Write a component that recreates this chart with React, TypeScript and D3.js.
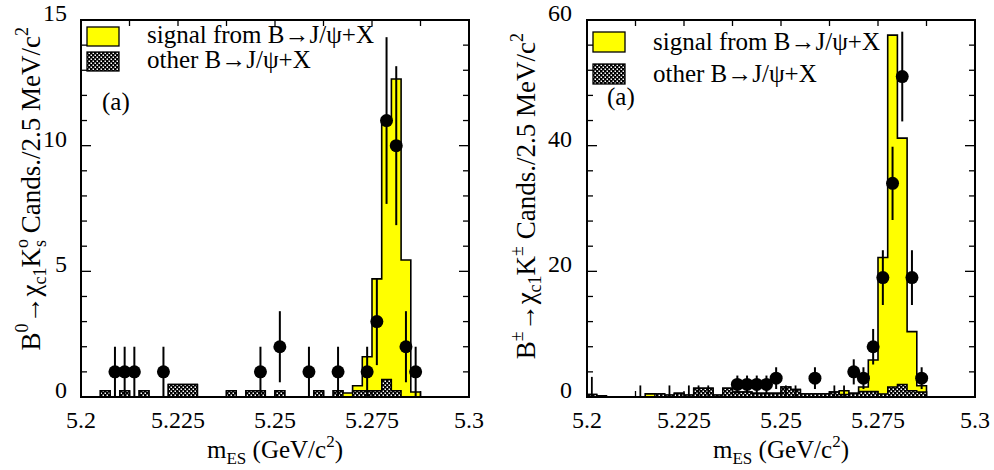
import React from 'react';
import * as d3 from 'd3';

// ---------- data ----------
const X_MIN = 5.2;
const X_MAX = 5.3;
const BIN_W = 0.0025; // 2.5 MeV bins, 40 bins

const xTickValues = [5.2, 5.225, 5.25, 5.275, 5.3];
const xTickLabels = ['5.2', '5.225', '5.25', '5.275', '5.3'];

const leftYTicks = [0, 5, 10, 15];
const leftYLabels = ['0', '5', '10', '15'];
const rightYTicks = [0, 20, 40, 60];
const rightYLabels = ['0', '20', '40', '60'];

// B0 -> chi_c1 K0s
const leftData = [
  0, 0, 0, 1, 1, 1, 0, 0, 1, 0,
  0, 0, 0, 0, 0, 0, 0, 0, 1, 0,
  2, 0, 0, 1, 0, 0, 1, 0, 0, 1,
  3, 11, 10, 2, 1, 0, 0, 0, 0, 0,
];
const leftOther = [
  0, 0, 0.25, 0, 0.25, 0, 0.25, 0, 0, 0.5,
  0.5, 0.5, 0, 0, 0, 0.25, 0, 0.25, 0.25, 0,
  0.25, 0, 0, 0, 0.25, 0, 0.25, 0, 0.25, 0.25,
  0.25, 0.7, 0.25, 0, 0, 0, 0, 0, 0, 0,
];
const leftSignal = [
  0, 0, 0, 0, 0, 0, 0, 0, 0, 0,
  0, 0, 0, 0, 0, 0, 0, 0, 0, 0,
  0, 0, 0, 0, 0, 0, 0, 0.16, 0.2, 1.35,
  4.45, 10.4, 12.4, 5.45, 0.2, 0, 0, 0, 0, 0,
];
const leftZeroErr = new Array(40).fill(0);

// B+- -> chi_c1 K+-
const rightData = [
  0, 0, 0, 0, 0, 0, 0, 0, 0, 0,
  0, 0, 0, 0, 0, 2, 2, 2, 2, 3,
  0, 0, 0, 3, 0, 0, 0, 4, 3, 8,
  19, 34, 51, 19, 3, 0, 0, 0, 0, 0,
];
const rightOther = [
  0.4, 0.2, 0, 0, 0, 0, 0, 0.5, 0.3, 0.6,
  0.3, 1.4, 1.4, 0.3, 1.4, 0.8, 0.8, 0.6, 0.6, 0.6,
  1.6, 1.2, 0.5, 0.5, 0.5, 0.8, 0.4, 0.6, 0.9, 0.9,
  0.5, 1.6, 2.0, 1.0, 0.8, 0, 0, 0, 0, 0,
];
const rightSignal = [
  0, 0, 0, 0, 0, 0, 0.5, 0, 0, 0,
  0, 0, 0, 0, 0, 0, 0, 0, 0, 0,
  0, 0, 0, 0, 0, 0, 0.6, 0, 0.7, 5.0,
  21.7, 56.0, 39.2, 9.4, 1.0, 0, 0, 0, 0, 0,
];
// upper error bars drawn for some empty bins
const rightZeroErr = [
  3.2, 0, 0, 0, 0, 1.84, 0, 0, 1.84, 0,
  1.84, 1.84, 1.84, 0, 0, 0, 0, 0, 0, 0,
  1.84, 1.84, 0, 0, 0, 1.84, 1.84, 0, 0, 0,
  0, 0, 0, 0, 0, 0, 0, 0, 0, 0,
];

const legendSignal = 'signal from B\u2192J/\u03c8+X';
const legendOther = 'other B\u2192J/\u03c8+X';

// ---------- layout ----------
const W = 994;
const H = 470;
const TOP = 20;
const BOTTOM = 397;
const FONT = '"Liberation Serif", "DejaVu Serif", serif';

type PanelProps = {
  id: string;
  x0: number;
  x1: number;
  yMax: number;
  yMinor: number;
  yTicks: number[];
  yLabels: string[];
  yLabelRight: number;
  data: number[];
  other: number[];
  signal: number[];
  zeroErr: number[];
  legend: { boxX: number; box1Y: number; box2Y: number; boxH: number; textX: number; t1: number; t2: number };
  tag: { x: number; y: number };
  yTitle: React.ReactNode;
  yTitlePos: { x: number; y: number };
};

function Panel(p: PanelProps) {
  const x = d3.scaleLinear().domain([X_MIN, X_MAX]).range([p.x0, p.x1]);
  const y = d3.scaleLinear().domain([0, p.yMax]).range([BOTTOM, TOP]);
  const n = p.data.length;
  const edge = (i: number) => x(X_MIN + i * BIN_W);
  const center = (i: number) => x(X_MIN + (i + 0.5) * BIN_W);
  const total = p.other.map((o, i) => o + p.signal[i]);
  const stepPoints = (vals: number[]): [number, number][] => [
    [edge(0), 0],
    ...vals.map((v, i) => [edge(i), v] as [number, number]),
    [edge(n), vals[n - 1]],
    [edge(n), 0],
  ];
  const area = d3
    .area<[number, number]>()
    .x((d) => d[0])
    .y0(y(0))
    .y1((d) => y(d[1]))
    .curve(d3.curveStepAfter);
  const line = d3
    .line<[number, number]>()
    .x((d) => d[0])
    .y((d) => y(d[1]))
    .curve(d3.curveStepAfter);

  const xMinor = d3.range(0, 9).map((i) => X_MIN + i * 0.0125);
  const yMinor = d3.range(0, p.yMax + 1e-9, p.yMinor);
  const clipId = `clip-${p.id}`;

  return (
    <g>
      <defs>
        <clipPath id={clipId}>
          <rect x={p.x0} y={TOP} width={p.x1 - p.x0} height={BOTTOM - TOP} />
        </clipPath>
      </defs>
      <g clipPath={`url(#${clipId})`}>
        <path d={area(stepPoints(total)) || ''} fill="#ffff00" stroke="none" />
        <path d={line(stepPoints(total)) || ''} fill="none" stroke="#000" strokeWidth={1.6} />
        <path d={area(stepPoints(p.other)) || ''} fill="url(#hatch)" stroke="none" />
        <path d={line(stepPoints(p.other)) || ''} fill="none" stroke="#000" strokeWidth={1.4} />
        {p.zeroErr.map((e, i) =>
          e > 0 ? (
            <line key={`z${i}`} x1={center(i)} x2={center(i)} y1={y(0)} y2={y(e)} stroke="#000" strokeWidth={1.8} />
          ) : null
        )}
        {p.data.map((v, i) =>
          v > 0 ? (
            <g key={`d${i}`}>
              <line
                x1={center(i)}
                x2={center(i)}
                y1={y(Math.max(0, v - Math.sqrt(v)))}
                y2={y(v + Math.sqrt(v))}
                stroke="#000"
                strokeWidth={2}
              />
              <circle cx={center(i)} cy={y(v)} r={6.5} fill="#000" />
            </g>
          ) : null
        )}
      </g>
      {/* frame */}
      <rect x={p.x0} y={TOP} width={p.x1 - p.x0} height={BOTTOM - TOP} fill="none" stroke="#000" strokeWidth={2} />
      {/* x ticks bottom & top */}
      {xMinor.map((v, i) => (
        <g key={`xt${i}`}>
          <line x1={x(v)} x2={x(v)} y1={BOTTOM} y2={BOTTOM - 6} stroke="#000" strokeWidth={1.3} />
          <line x1={x(v)} x2={x(v)} y1={TOP} y2={TOP + 6} stroke="#000" strokeWidth={1.3} />
        </g>
      ))}
      {xTickValues.map((v, i) => (
        <text key={`xl${i}`} x={x(v)} y={428} textAnchor="middle" fontSize={24} fontFamily={FONT}>
          {xTickLabels[i]}
        </text>
      ))}
      {/* y ticks left & right */}
      {yMinor.map((v, i) => {
        const major = p.yTicks.some((t) => Math.abs(t - v) < 1e-9);
        const len = major ? 10 : 6;
        return (
          <g key={`yt${i}`}>
            <line x1={p.x0} x2={p.x0 + len} y1={y(v)} y2={y(v)} stroke="#000" strokeWidth={1.3} />
            <line x1={p.x1} x2={p.x1 - len} y1={y(v)} y2={y(v)} stroke="#000" strokeWidth={1.3} />
          </g>
        );
      })}
      {p.yTicks.map((v, i) => (
        <text key={`yl${i}`} x={p.yLabelRight} y={y(v) + 1} textAnchor="end" fontSize={24} fontFamily={FONT}>
          {p.yLabels[i]}
        </text>
      ))}
      {/* legend */}
      <rect x={p.legend.boxX} y={p.legend.box1Y} width={32} height={p.legend.boxH} fill="#ffff00" stroke="#000" strokeWidth={1.3} />
      <rect x={p.legend.boxX} y={p.legend.box2Y} width={32} height={p.legend.boxH} fill="url(#hatch)" stroke="#000" strokeWidth={1.3} />
      <text x={p.legend.textX} y={p.legend.t1} fontSize={25} fontFamily={FONT}>{legendSignal}</text>
      <text x={p.legend.textX} y={p.legend.t2} fontSize={25} fontFamily={FONT}>{legendOther}</text>
      <text x={p.tag.x} y={p.tag.y} fontSize={25} fontFamily={FONT}>(a)</text>
      {/* x title */}
      <text x={(p.x0 + p.x1) / 2} y={458} textAnchor="middle" fontSize={25} fontFamily={FONT} style={{ whiteSpace: 'pre' }}>
        <tspan>m</tspan>
        <tspan fontSize={17} dy={6}>ES</tspan>
        <tspan dy={-6}> (GeV/c</tspan>
        <tspan fontSize={17} dy={-11}>2</tspan>
        <tspan dy={11}>)</tspan>
      </text>
      {/* y title */}
      <text
        transform={`translate(${p.yTitlePos.x},${p.yTitlePos.y}) rotate(-90)`}
        textAnchor="end"
        fontSize={27}
        fontFamily={FONT}
        style={{ whiteSpace: 'pre' }}
      >
        {p.yTitle}
      </text>
    </g>
  );
}

export default function App() {
  return (
    <svg
      width={W}
      height={H}
      viewBox={`0 0 ${W} ${H}`}
      style={{ position: 'absolute', left: 0, top: 0, background: '#fff' }}
    >
      <defs>
        <pattern id="hatch" patternUnits="userSpaceOnUse" width={4} height={4}>
          <rect width={4} height={4} fill="#000" />
          <rect x={0.5} y={0.5} width={1.5} height={1.5} fill="#fff" />
          <rect x={2.5} y={2.5} width={1.5} height={1.5} fill="#fff" />
        </pattern>
      </defs>
      <rect width={W} height={H} fill="#fff" />
      <Panel
        id="left"
        x0={81}
        x1={469}
        yMax={15}
        yMinor={1}
        yTicks={leftYTicks}
        yLabels={leftYLabels}
        yLabelRight={67}
        data={leftData}
        other={leftOther}
        signal={leftSignal}
        zeroErr={leftZeroErr}
        legend={{ boxX: 87, box1Y: 27, box2Y: 52, boxH: 19, textX: 147, t1: 43, t2: 68 }}
        tag={{ x: 102, y: 110 }}
        yTitlePos={{ x: 40, y: 27 }}
        yTitle={
          <>
            <tspan>B</tspan>
            <tspan fontSize={18} dy={-12}>0</tspan>
            <tspan dy={12}>{'\u2192\u03c7'}</tspan>
            <tspan fontSize={18} dy={6}>c1</tspan>
            <tspan dy={-6}>K</tspan>
            <tspan fontSize={18} dy={-12}>o</tspan>
            <tspan fontSize={18} dx={-8} dy={18}>s</tspan>
            <tspan dy={-6}>{' Cands./2.5 MeV/c'}</tspan>
            <tspan fontSize={18} dy={-12}>2</tspan>
          </>
        }
      />
      <Panel
        id="right"
        x0={587}
        x1={975}
        yMax={60}
        yMinor={4}
        yTicks={rightYTicks}
        yLabels={rightYLabels}
        yLabelRight={572}
        data={rightData}
        other={rightOther}
        signal={rightSignal}
        zeroErr={rightZeroErr}
        legend={{ boxX: 593, box1Y: 32, box2Y: 64, boxH: 20, textX: 653, t1: 50, t2: 82 }}
        tag={{ x: 607, y: 105 }}
        yTitlePos={{ x: 535, y: 33 }}
        yTitle={
          <>
            <tspan>B</tspan>
            <tspan fontSize={18} dy={-12}>{'\u00b1'}</tspan>
            <tspan dy={12}>{'\u2192\u03c7'}</tspan>
            <tspan fontSize={18} dy={6}>c1</tspan>
            <tspan dy={-6}>K</tspan>
            <tspan fontSize={18} dy={-12}>{'\u00b1'}</tspan>
            <tspan dy={12}>{' Cands./2.5 MeV/c'}</tspan>
            <tspan fontSize={18} dy={-12}>2</tspan>
          </>
        }
      />
    </svg>
  );
}
